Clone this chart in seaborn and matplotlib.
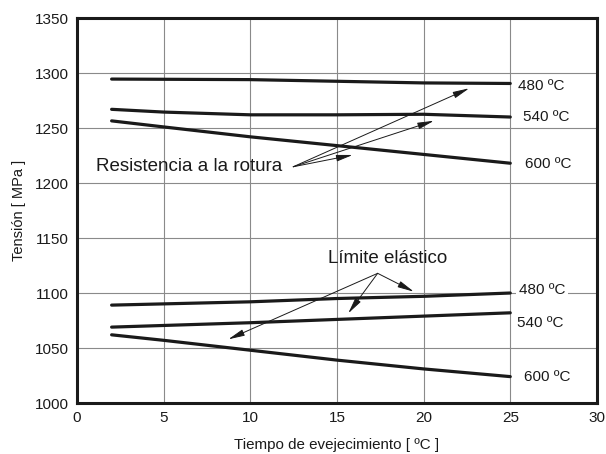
import matplotlib
matplotlib.use("Agg")
import matplotlib.pyplot as plt
import seaborn as sns
import pandas as pd

# Aging time (x) and stress values for each curve
temperaturas = ["480 ºC", "540 ºC", "600 ºC"]

rotura_x = {
    "480 ºC": [2, 10, 15, 20, 25],
    "540 ºC": [2, 5, 10, 15, 20, 25],
    "600 ºC": [2, 5, 10, 15, 20, 25],
}
rotura_y = {
    "480 ºC": [1294.5, 1294, 1292.5, 1291, 1290.5],
    "540 ºC": [1267, 1264.5, 1262, 1262, 1262.5, 1260],
    "600 ºC": [1256.5, 1251, 1242, 1234, 1226, 1218],
}
elastico_x = {
    "480 ºC": [2, 10, 15, 20, 25],
    "540 ºC": [2, 10, 15, 20, 25],
    "600 ºC": [2, 5, 10, 15, 20, 25],
}
elastico_y = {
    "480 ºC": [1089, 1092, 1095, 1097, 1100],
    "540 ºC": [1069, 1073, 1076, 1079, 1082],
    "600 ºC": [1062, 1057, 1048, 1039, 1031, 1024],
}

# Curve label anchors (x, y)
rotura_etiquetas = {"480 ºC": (25.45, 1288.5), "540 ºC": (25.75, 1260.3), "600 ºC": (25.85, 1217.3)}
elastico_etiquetas = {"480 ºC": (25.5, 1102.7), "540 ºC": (25.4, 1073), "600 ºC": (25.8, 1023.4)}

# Callout texts and arrow targets
rotura_texto = "Resistencia a la rotura"
rotura_texto_pos = (1.1, 1215)
rotura_origen = (12.48, 1214.8)
rotura_destinos = [(22.63, 1286.1), (20.6, 1256.6), (15.91, 1225.5)]

elastico_texto = "Límite elástico"
elastico_texto_pos = (17.9, 1131)
elastico_origen = (17.35, 1117.9)
elastico_destinos = [(8.73, 1057.9), (15.65, 1081.5), (19.44, 1101.2)]

x_ticks = [0, 5, 10, 15, 20, 25, 30]
y_ticks = [1000, 1050, 1100, 1150, 1200, 1250, 1300, 1350]

rows = []
for grupo, xs_d, ys_d in (("rotura", rotura_x, rotura_y), ("elastico", elastico_x, elastico_y)):
    for t in temperaturas:
        for xv, yv in zip(xs_d[t], ys_d[t]):
            rows.append({"tiempo": xv, "tension": yv, "curva": f"{grupo} {t}"})
df = pd.DataFrame(rows)

sns.set_theme(style="white")
plt.rcParams["font.family"] = ["Liberation Sans", "DejaVu Sans"]

fig = plt.figure(figsize=(6.06, 4.54), dpi=100)
ax = fig.add_axes([0.127, 0.1123, 0.858, 0.8480])

sns.lineplot(data=df, x="tiempo", y="tension", units="curva", estimator=None,
             sort=False, color="#1a1a1a", linewidth=2.3, ax=ax, zorder=3)

ax.set_xlim(0, 30)
ax.set_ylim(1000, 1350)
ax.set_xticks(x_ticks)
ax.set_yticks(y_ticks)
ax.grid(True, color="#8a8a8a", linewidth=0.8)
ax.set_axisbelow(True)
for s in ax.spines.values():
    s.set_visible(True)
    s.set_color("#1a1a1a")
    s.set_linewidth(2.2)
ax.tick_params(axis="both", length=0, labelsize=11, colors="#1a1a1a", pad=6)

ax.set_xlabel("Tiempo de evejecimiento [ ºC ]", fontsize=10.9, color="#1a1a1a", labelpad=9)
ax.set_ylabel("Tensión [ MPa ]", fontsize=10.5, color="#1a1a1a", labelpad=6)

for t in temperaturas:
    x0, y0 = rotura_etiquetas[t]
    ax.text(x0, y0, t, fontsize=11, va="center", ha="left", color="#1a1a1a", zorder=4)
    x1, y1 = elastico_etiquetas[t]
    ax.text(x1, y1, t, fontsize=11, va="center", ha="left", color="#1a1a1a", zorder=4,
            bbox=dict(facecolor="white", edgecolor="none", pad=2))

arrow = dict(arrowstyle="-|>,head_length=0.9,head_width=0.18", color="#1a1a1a",
             lw=0.7, mutation_scale=11, shrinkA=0, shrinkB=0)

ax.text(*rotura_texto_pos, rotura_texto, fontsize=13.5, va="center", ha="left", color="#1a1a1a")
for d in rotura_destinos:
    ax.annotate("", xy=d, xytext=rotura_origen, arrowprops=arrow)

ax.text(*elastico_texto_pos, elastico_texto, fontsize=13.5, va="center", ha="center", color="#1a1a1a")
for d in elastico_destinos:
    ax.annotate("", xy=d, xytext=elastico_origen, arrowprops=arrow)

fig.savefig("out.png", dpi=100)
